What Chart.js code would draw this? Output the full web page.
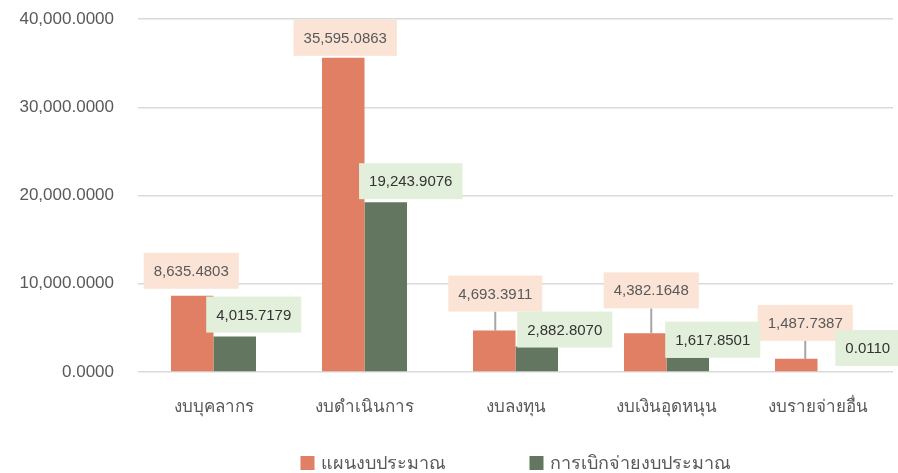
<!DOCTYPE html>
<html>
<head>
<meta charset="utf-8">
<script src="https://cdn.jsdelivr.net/npm/chart.js@4/dist/chart.umd.min.js"></script>
<style>
  html, body { margin: 0; padding: 0; background: #fff; }
</style>
</head>
<body>
<canvas id="myChart" width="898" height="473"></canvas>
<script>
// ข้อมูล
const categories = ['งบบุคลากร', 'งบดำเนินการ', 'งบลงทุน', 'งบเงินอุดหนุน', 'งบรายจ่ายอื่น'];
const seriesNames = ['แผนงบประมาณ', 'การเบิกจ่ายงบประมาณ'];
const planValues = [8635.4803, 35595.0863, 4693.3911, 4382.1648, 1487.7387];
const spentValues = [4015.7179, 19243.9076, 2882.8070, 1617.8501, 0.0110];
const yTicks = [0, 10000, 20000, 30000, 40000];

// where the value boxes sit, px from the top centre of each bar
const planLabelDx = [-1, 2, 1, 6, 9];
const planLabelDy = [-25, -20, -37, -43, -36];
const spentLabelDx = [19, 25, 28, 25, 29];
const spentLabelDy = [-22, -21, -17, -18, -24];

const FONT = "'Liberation Sans', 'Noto Sans', sans-serif";
const colors = ['#E07F63', '#637660'];
const boxFill = ['#FBE4D6', '#E2EFDA'];
const boxText = ['#595959', '#333333'];

function fmt(v) {
  return Number(v).toLocaleString('en-US', {minimumFractionDigits: 4, maximumFractionDigits: 4});
}

// a bar thinner than a pixel is not drawn (like the 0.0110 one)
function barColor(i) {
  return c => (c.raw !== undefined && Math.abs(c.raw) < 50) ? 'rgba(0,0,0,0)' : colors[i];
}

// กล่องตัวเลขบนแท่ง
const valueBoxes = {
  id: 'valueBoxes',
  afterDatasetsDraw(chart) {
    const ctx = chart.ctx;
    const offs = [[planLabelDx, planLabelDy], [spentLabelDx, spentLabelDy]];
    ctx.save();
    ctx.font = '15px ' + FONT;
    ctx.textAlign = 'center';
    ctx.textBaseline = 'middle';
    chart.data.datasets.forEach((ds, i) => {
      const meta = chart.getDatasetMeta(i);
      meta.data.forEach((bar, j) => {
        const text = fmt(ds.data[j]);
        const w = ctx.measureText(text).width + 20;
        const h = 36;
        const cx = bar.x + offs[i][0][j];
        const cy = bar.y + offs[i][1][j];
        // leader line when the box is far from the bar
        if (bar.y - (cy + h / 2) > 8) {
          ctx.strokeStyle = '#A6A6A6';
          ctx.lineWidth = 2;
          ctx.beginPath();
          ctx.moveTo(cx, cy + h / 2);
          ctx.lineTo(cx, bar.y);
          ctx.stroke();
        }
        ctx.fillStyle = boxFill[i];
        ctx.fillRect(cx - w / 2, cy - h / 2, w, h);
        ctx.fillStyle = boxText[i];
        ctx.fillText(text, cx, cy + 1);
      });
    });
    ctx.restore();
  }
};

// legend ด้านล่าง
const bottomLegend = {
  id: 'bottomLegend',
  afterDraw(chart) {
    const ctx = chart.ctx;
    const area = chart.chartArea;
    ctx.save();
    ctx.font = '18px ' + FONT;
    ctx.textBaseline = 'middle';
    const gap = 84, box = 14, textGap = 6;
    const widths = chart.data.datasets.map(ds => box + textGap + ctx.measureText(ds.label).width);
    const total = widths.reduce((a, b) => a + b, 0) + gap * (widths.length - 1);
    let x = (area.left + area.right) / 2 - total / 2;
    const y = 463;
    chart.data.datasets.forEach((ds, i) => {
      ctx.fillStyle = colors[i];
      ctx.fillRect(x, y - box / 2, box, box);
      ctx.fillStyle = '#595959';
      ctx.fillText(ds.label, x + box + textGap, y + 1);
      x += widths[i] + gap;
    });
    ctx.restore();
  }
};

const config = {
  type: 'bar',
  data: {
    labels: categories,
    datasets: [
      {label: seriesNames[0], data: planValues, backgroundColor: barColor(0), categoryPercentage: 0.563, barPercentage: 1},
      {label: seriesNames[1], data: spentValues, backgroundColor: barColor(1), categoryPercentage: 0.563, barPercentage: 1}
    ]
  },
  options: {
    responsive: false,
    animation: false,
    devicePixelRatio: 1,
    layout: {padding: {top: 19, right: 5, left: 0, bottom: 0}},
    plugins: {
      legend: {display: false},
      tooltip: {enabled: false}
    },
    scales: {
      x: {
        grid: {display: false, drawTicks: false},
        border: {display: false},
        ticks: {color: '#595959', padding: 25, font: {size: 17, family: FONT}},
        afterFit: s => { s.height = 101; }
      },
      y: {
        min: 0,
        max: 40000,
        afterBuildTicks: s => { s.ticks = yTicks.map(v => ({value: v})); },
        grid: {color: '#D9D9D9', lineWidth: 1.5, drawTicks: false},
        border: {display: false},
        ticks: {color: '#595959', padding: 24, font: {size: 17, family: FONT}, callback: v => fmt(v)},
        afterFit: s => { s.width = 138; s.paddingTop = 0; s.paddingBottom = 0; }
      }
    }
  },
  plugins: [valueBoxes, bottomLegend]
};

const ctx = document.getElementById('myChart').getContext('2d');
const myChart = new Chart(ctx, config);
</script>
</body>
</html>
